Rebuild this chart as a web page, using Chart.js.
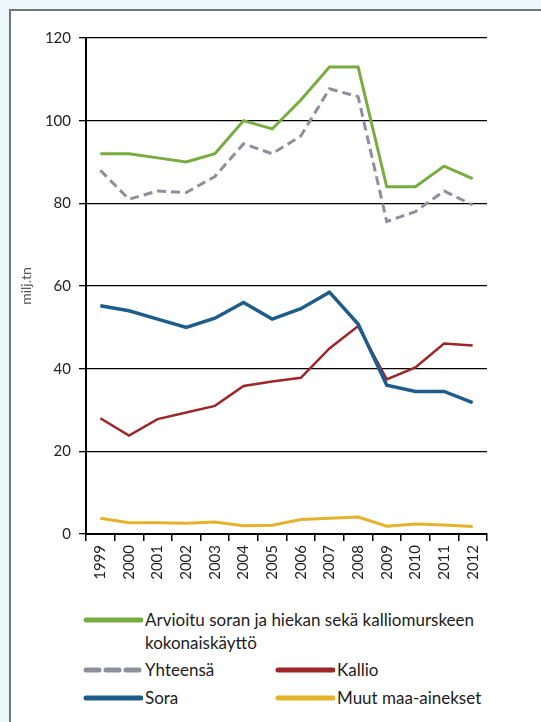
<!DOCTYPE html>
<html>
<head>
<meta charset="utf-8">
<script src="https://cdn.jsdelivr.net/npm/chart.js@4.4.1/dist/chart.umd.min.js"></script>
<style>
  html, body { margin: 0; padding: 0; }
  body { width: 541px; height: 722px; background: #eef8fa; position: relative; overflow: hidden; font-family: Lato, "Open Sans", sans-serif; }
  #frame { position: absolute; left: 9px; top: 9px; width: 600px; height: 711px; background: #ffffff; border-left: 2px solid #6b7878; border-top: 2px solid #6b7878; border-bottom: 2px solid #9aa6a6; }
  #wrap { position: absolute; left: 0; top: 0; width: 541px; height: 600px; }
  .leg { position: absolute; display: flex; align-items: flex-start; color: #1c1c1c; font-size: 17px; line-height: 23px; }
  .leg svg { flex: none; margin-top: 7px; }
  .leg span { display: block; }
</style>
</head>
<body>
<div id="frame"></div>
<div id="wrap"><canvas id="c" width="541" height="600"></canvas></div>
<div id="legend"></div>
<script>
const years = ["1999","2000","2001","2002","2003","2004","2005","2006","2007","2008","2009","2010","2011","2012"];
const seriesNames = ["Arvioitu soran ja hiekan sekä kalliomurskeen kokonaiskäyttö", "Yhteensä", "Kallio", "Sora", "Muut maa-ainekset"];
const arvioitu = [92, 92, 91, 90, 92, 100, 98, 105, 113, 113, 84, 84, 89, 86];
const yhteensa = [88, 81, 83, 82.6, 86.5, 94.4, 92, 96.3, 107.7, 105.8, 75.6, 78, 83, 79.6];
const kallio = [28, 23.8, 27.8, 29.4, 31, 35.8, 36.9, 37.8, 44.9, 50.3, 37.4, 40.3, 46.1, 45.6];
const sora = [55.2, 54, 52, 50, 52.2, 56, 52, 54.5, 58.5, 50.8, 36, 34.5, 34.5, 31.8];
const muut = [3.8, 2.7, 2.7, 2.6, 2.9, 2.0, 2.1, 3.5, 3.8, 4.1, 1.9, 2.4, 2.2, 1.8];
const yTicks = [0, 20, 40, 60, 80, 100, 120];
const yTitle = "milj.tn";

const colors = ["#77ad3f", "#8f8f9b", "#9e2628", "#1e5c89", "#e5b22c"];
const widths = [3, 3, 2.5, 3.5, 3];
const dashes = [[], [9, 5], [], [], []];
const allData = [arvioitu, yhteensa, kallio, sora, muut];

const datasets = allData.map((d, i) => ({
  label: seriesNames[i],
  data: d,
  borderColor: colors[i],
  backgroundColor: colors[i],
  borderWidth: widths[i],
  borderDash: dashes[i],
  pointRadius: 0,
  tension: 0,
  fill: false,
  order: [5, 4, 3, 1, 2][i]
}));

new Chart(document.getElementById('c'), {
  type: 'line',
  data: { labels: years, datasets },
  options: {
    responsive: false,
    devicePixelRatio: 1,
    animation: false,
    layout: { padding: { left: 15, right: 54, top: 38, bottom: 0 } },
    plugins: { legend: { display: false }, tooltip: { enabled: false } },
    scales: {
      x: {
        offset: true,
        grid: { display: true, drawOnChartArea: false, drawTicks: true, tickLength: 7, offset: true, color: '#000', lineWidth: 1.5 },
        border: { display: true, color: '#000', width: 2 },
        ticks: { color: '#222', font: { family: 'Lato', size: 15 }, minRotation: 90, maxRotation: 90, padding: 4, autoSkip: false },
        afterFit: (s) => { s.height = 66; }
      },
      y: {
        min: 0, max: 120,
        afterBuildTicks: (s) => { s.ticks = yTicks.map(v => ({ value: v })); },
        grid: { color: '#000', lineWidth: 1.3, tickLength: 7, drawTicks: true },
        border: { display: true, color: '#000', width: 2 },
        ticks: { color: '#222', font: { family: 'Lato', size: 15 }, padding: 8 },
        title: { display: true, text: yTitle, color: '#555', font: { family: 'Lato', size: 14 }, padding: { top: 3, bottom: 0 } },
        afterFit: (s) => { s.width = 71; }
      }
    }
  }
});

// HTML legend
const legPos = [
  { left: 83, top: 608, textWidth: 360 },
  { left: 83, top: 658 },
  { left: 275, top: 658 },
  { left: 83, top: 686 },
  { left: 275, top: 686 }
];
const legend = document.getElementById('legend');
seriesNames.forEach((name, i) => {
  const p = legPos[i];
  const div = document.createElement('div');
  div.className = 'leg';
  div.style.left = p.left + 'px';
  div.style.top = p.top + 'px';
  const dash = i === 1 ? 'stroke-dasharray="13 7"' : '';
  div.innerHTML = '<svg width="60" height="10"><line x1="3" y1="5" x2="58" y2="5" stroke="' + colors[i] + '" stroke-width="5" stroke-linecap="round" ' + dash + '/></svg>';
  const sp = document.createElement('span');
  sp.textContent = name;
  if (p.textWidth) sp.style.width = p.textWidth + 'px';
  sp.style.marginLeft = '2px';
  div.appendChild(sp);
  legend.appendChild(div);
});
</script>
</body>
</html>
